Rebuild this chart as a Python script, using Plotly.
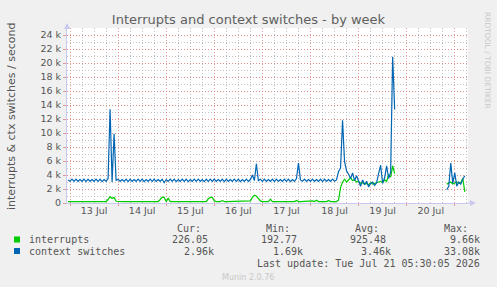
import pandas as pd
import plotly.graph_objects as go

# ---------------- data (values in thousands per second, hourly samples) ----------------
start_time = "2026-07-12 23:00"

blue_jul12 = [3.3]
blue_jul13 = [3.1, 3.4, 3.1, 3.4, 3.1, 3.35, 3.1, 3.4, 3.05, 3.4, 3.1, 3.35,
              3.1, 3.4, 3.1, 3.4, 3.05, 3.35, 3.1, 3.5, 13.4, 3.0, 9.9, 3.2]
blue_jul14 = [3.4, 3.1, 3.35, 3.1, 3.4, 3.05, 3.4, 3.1, 3.35, 3.1, 3.4, 3.1,
              3.4, 3.05, 3.35, 3.1, 3.4, 3.1, 3.4, 3.1, 3.35, 3.1, 3.4, 2.9]
blue_jul15 = [3.35, 3.1, 3.4, 3.1, 3.4, 3.05, 3.35, 3.1, 3.4, 3.1, 3.4, 3.05,
              3.35, 3.1, 3.4, 3.1, 3.4, 3.1, 3.35, 3.05, 3.4, 3.1, 3.4, 3.1]
blue_jul16 = [3.4, 3.1, 3.35, 3.1, 3.4, 3.05, 3.4, 3.1, 3.35, 3.1, 3.4, 3.1,
              3.4, 3.05, 3.35, 3.1, 3.4, 3.1, 3.35, 4.0, 3.2, 5.6, 3.2, 3.4]
blue_jul17 = [3.1, 3.4, 3.1, 3.35, 3.1, 3.4, 3.05, 3.4, 3.1, 3.35, 3.1, 3.4,
              3.1, 3.4, 3.05, 3.35, 3.1, 3.5, 5.7, 3.3, 3.1, 3.4, 3.1, 3.35]
blue_jul18 = [3.1, 3.4, 3.1, 3.35, 3.1, 3.4, 3.05, 3.4, 3.1, 3.35, 3.1, 3.4,
              3.1, 3.3, 4.5, 5.0, 11.8, 5.9, 4.6, 4.1, 3.5, 4.3, 3.2, 3.9]
blue_jul19 = [3.0, 2.4, 3.3, 2.6, 3.1, 2.3, 2.8, 3.0, 2.5, 2.9, 4.2, 5.4,
              2.8, 3.6, 5.3, 3.5, 4.4, 20.9, 13.4, None, None, None, None, None]
blue_jul20 = [None] * 20 + [1.9, 2.4, 5.7, 2.8]
blue_jul21 = [4.3, 2.4, 3.0, 2.7, 3.4, 3.9]

green_jul12 = [0.2]
green_jul13 = [0.21, 0.2, 0.2, 0.21, 0.2, 0.2, 0.2, 0.21, 0.2, 0.2, 0.21, 0.2,
               0.2, 0.2, 0.21, 0.2, 0.2, 0.2, 0.21, 0.5, 0.9, 0.65, 0.8, 0.25]
green_jul14 = [0.2, 0.21, 0.2, 0.2, 0.2, 0.21, 0.2, 0.2, 0.2, 0.21, 0.2, 0.2,
               0.2, 0.21, 0.2, 0.2, 0.2, 0.21, 0.3, 0.2, 0.2, 0.5, 0.85, 0.8]
green_jul15 = [0.2, 0.7, 0.2, 0.21, 0.2, 0.2, 0.2, 0.21, 0.2, 0.2, 0.2, 0.21,
               0.2, 0.2, 0.2, 0.21, 0.2, 0.2, 0.2, 0.21, 0.2, 0.6, 0.8, 0.8]
green_jul16 = [0.3, 0.2, 0.2, 0.21, 0.35, 0.2, 0.2, 0.2, 0.21, 0.2, 0.2, 0.2,
               0.21, 0.2, 0.2, 0.2, 0.21, 0.2, 0.3, 0.8, 1.1, 1.0, 0.7, 0.3]
green_jul17 = [0.2, 0.21, 0.2, 0.2, 0.55, 0.2, 0.2, 0.21, 0.2, 0.2, 0.2, 0.21,
               0.2, 0.2, 0.2, 0.21, 0.2, 0.35, 0.2, 0.2, 0.21, 0.2, 0.2, 0.2]
green_jul18 = [0.2, 0.3, 0.2, 0.4, 0.2, 0.2, 0.21, 0.2, 0.2, 0.35, 0.2, 0.2,
               0.21, 0.2, 0.4, 2.2, 3.0, 3.4, 3.0, 3.3, 3.6, 3.2, 3.3, 3.0]
green_jul19 = [3.1, 2.8, 2.9, 2.7, 2.8, 2.6, 2.9, 2.7, 2.8, 2.9, 3.0, 3.1,
               2.9, 3.3, 3.1, 4.0, 3.7, 5.3, 4.2, None, None, None, None, None]
green_jul20 = [None] * 20 + [2.7, 2.8, 3.0, 2.7]
green_jul21 = [2.9, 3.0, 2.8, 2.9, 3.5, 1.6]

day_labels = ["13 Jul", "14 Jul", "15 Jul", "16 Jul", "17 Jul", "18 Jul", "19 Jul", "20 Jul"]
day_noons = ["2026-07-%02d 12:00" % d for d in range(13, 21)]
y_tick_vals = [0, 2, 4, 6, 8, 10, 12, 14, 16, 18, 20, 22, 24]
y_tick_text = ["0"] + ["%d k" % v for v in y_tick_vals[1:]]

series_names = ["interrupts", "context switches"]
series_colors = ["#00CC00", "#0066B3"]
stat_cur = ["226.05", "2.96k"]
stat_min = ["192.77", "1.69k"]
stat_avg = ["925.48", "3.46k"]
stat_max = ["9.66k", "33.08k"]

blue = (blue_jul12 + blue_jul13 + blue_jul14 + blue_jul15 + blue_jul16 +
        blue_jul17 + blue_jul18 + blue_jul19 + blue_jul20 + blue_jul21)
green = (green_jul12 + green_jul13 + green_jul14 + green_jul15 + green_jul16 +
         green_jul17 + green_jul18 + green_jul19 + green_jul20 + green_jul21)
times = pd.date_range(start_time, periods=len(blue), freq="h")

# ---------------- geometry helpers (pixels -> paper) ----------------
W, H = 497, 287
PL, PR, PT, PB = 67, 468, 28, 203


def px(x):
    return (x - PL) / (PR - PL)


def py(y):
    return (PB - y) / (PB - PT)


fig = go.Figure()
fig.add_trace(go.Scatter(x=times, y=green, mode="lines", name=series_names[0],
                         line=dict(color=series_colors[0], width=1.2)))
fig.add_trace(go.Scatter(x=times, y=blue, mode="lines", name=series_names[1],
                         line=dict(color=series_colors[1], width=1.2)))
# invisible trace to carry the label axis
fig.add_trace(go.Scatter(x=[times[0]], y=[None], xaxis="x2", showlegend=False,
                         hoverinfo="skip"))

GRID_MAJ = "rgba(225,120,120,0.75)"
GRID_MIN = "rgba(185,185,185,0.85)"
TICK_MAJ = "rgba(225,120,120,0.75)"
AXIS_COL = "#c8c8f0"
TXT = "#555555"
DOT = "1px,2px"
x_range = ["2026-07-12 22:30", "2026-07-21 06:36"]

fig.update_layout(
    width=W, height=H,
    margin=dict(l=PL, r=W - PR, t=PT, b=H - PB),
    paper_bgcolor="#f0f0f0", plot_bgcolor="#ffffff",
    showlegend=False,
    font=dict(family="DejaVu Sans", size=9, color=TXT),
    title=dict(text="Interrupts and context switches - by week",
               x=0.5, xref="container", xanchor="center",
               y=1 - 19 / H, yref="container", yanchor="middle",
               font=dict(family="DejaVu Sans", size=13, color="#606060")),
    xaxis=dict(type="date", range=x_range, tick0="2026-07-13", dtick=86400000,
               showticklabels=False, showgrid=True, gridcolor=GRID_MAJ,
               griddash=DOT, gridwidth=1,
               ticks="outside", ticklen=2, tickcolor=TICK_MAJ,
               minor=dict(dtick=6 * 3600 * 1000, showgrid=True, gridcolor=GRID_MIN,
                          griddash=DOT, gridwidth=1),
               showline=True, linecolor=AXIS_COL, linewidth=1, zeroline=False,
               fixedrange=True),
    xaxis2=dict(type="date", range=x_range, overlaying="x", anchor="y", side="bottom",
                tickmode="array", tickvals=day_noons, ticktext=day_labels,
                showgrid=False, ticks="", showline=False, zeroline=False,
                tickfont=dict(family="DejaVu Sans", size=9.5, color=TXT)),
    yaxis=dict(range=[0, 25], tickmode="array", tickvals=y_tick_vals, ticktext=y_tick_text,
               showgrid=True, gridcolor=GRID_MAJ, griddash=DOT, gridwidth=1,
               ticks="outside", ticklen=3, tickcolor=TICK_MAJ,
               minor=dict(dtick=1, showgrid=True, gridcolor=GRID_MIN, griddash=DOT,
                          gridwidth=1),
               showline=True, linecolor=AXIS_COL, linewidth=1, zeroline=False,
               tickfont=dict(family="DejaVu Sans", size=9.5, color=TXT)),
)

# axis arrows
fig.add_shape(type="line", xref="paper", yref="paper", x0=0, x1=0, y0=1, y1=py(24),
              line=dict(color=AXIS_COL, width=1))
fig.add_shape(type="path", xref="paper", yref="paper",
              path="M %f %f L %f %f L %f %f Z" % (px(64), py(29), px(70), py(29), px(67), py(23)),
              fillcolor=AXIS_COL, line=dict(color=AXIS_COL, width=0))
fig.add_shape(type="line", xref="paper", yref="paper", x0=1, x1=px(474), y0=0, y1=0,
              line=dict(color=AXIS_COL, width=1))
fig.add_shape(type="path", xref="paper", yref="paper",
              path="M %f %f L %f %f L %f %f Z" % (px(470), py(200), px(470), py(206), px(476), py(203)),
              fillcolor=AXIS_COL, line=dict(color=AXIS_COL, width=0))

ann = []
# y-axis title
ann.append(dict(text="interrupts &amp; ctx switches / second", textangle=-90,
                x=px(11), y=py(117), xref="paper", yref="paper",
                xanchor="center", yanchor="middle", showarrow=False,
                font=dict(family="DejaVu Sans", size=11, color=TXT)))
# rrdtool watermark
ann.append(dict(text="RRDTOOL / TOBI OETIKER", textangle=90,
                x=px(488), y=py(60), xref="paper", yref="paper",
                xanchor="center", yanchor="middle", showarrow=False,
                font=dict(family="DejaVu Sans", size=7.5, color="#c8c8c8")))

MONO = dict(family="DejaVu Sans Mono", size=10, color=TXT)


def txt(s, x, y, anchor="right", font=MONO):
    ann.append(dict(text=s, x=px(x), y=py(y), xref="paper", yref="paper",
                    xanchor=anchor, yanchor="middle", showarrow=False, font=font))


header_y = 228
row_y = [239.5, 251]
txt("Cur:", 203, header_y)
txt("Min:", 292, header_y)
txt("Avg:", 381, header_y)
txt("Max:", 470, header_y)
cur_right = [210, 216]
min_right = [299, 305]
avg_right = [388, 393]
max_right = [482, 482]
for i in range(2):
    txt(series_names[i], 27, row_y[i], anchor="left")
    txt(stat_cur[i], cur_right[i], row_y[i])
    txt(stat_min[i], min_right[i], row_y[i])
    txt(stat_avg[i], avg_right[i], row_y[i])
    txt(stat_max[i], max_right[i], row_y[i])
    fig.add_shape(type="rect", xref="paper", yref="paper",
                  x0=px(14), x1=px(20), y0=py(row_y[i] + 3), y1=py(row_y[i] - 3),
                  fillcolor=series_colors[i], line=dict(width=0))
txt("Last update: Tue Jul 21 05:30:05 2026", 482, 263.5)
txt("Munin 2.0.76", 248, 277, anchor="center",
    font=dict(family="DejaVu Sans", size=8, color="#c8c8c8"))

fig.update_layout(annotations=ann)
fig.write_html("out.html")
